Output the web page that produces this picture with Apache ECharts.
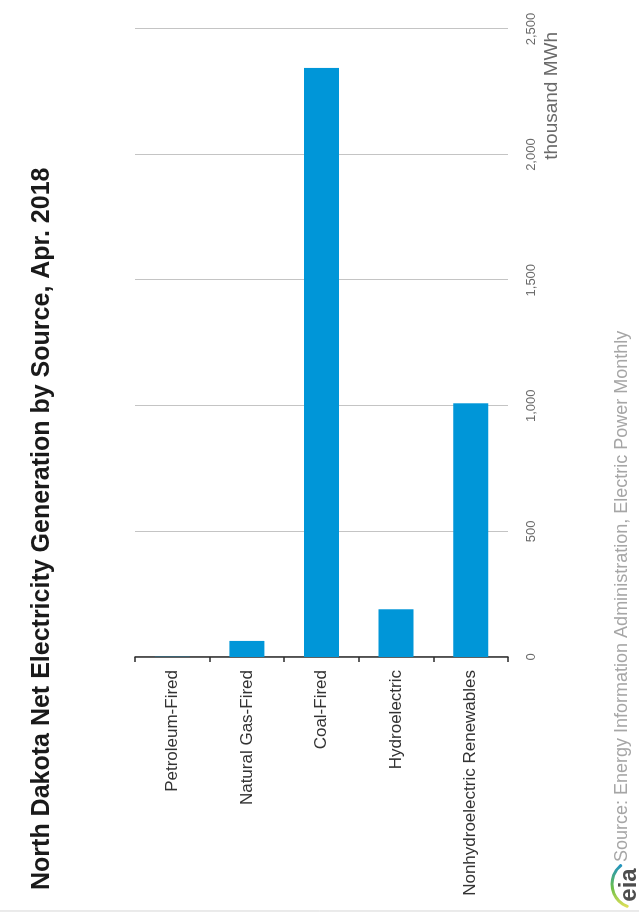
<!DOCTYPE html>
<html>
<head>
<meta charset="utf-8">
<script src="https://cdn.jsdelivr.net/npm/echarts@6/dist/echarts.min.js"></script>
<style>
  html, body { margin: 0; padding: 0; background: #fff; overflow: hidden; }
  /* The chart is laid out landscape (915 x 639) and turned a quarter turn
     counter-clockwise so it fills the portrait page. */
  #wrap {
    position: absolute; left: 0; top: 915px;
    width: 915px; height: 639px;
    transform-origin: 0 0; transform: rotate(-90deg);
  }
  #chart { width: 915px; height: 639px; }
</style>
</head>
<body>
<div id="wrap"><div id="chart"></div></div>
<script>
const FONT = 'Liberation Sans, Arial, Helvetica, sans-serif';

const titleText = 'North Dakota Net Electricity Generation by Source, Apr. 2018';
const unitText = 'thousand MWh';
const sourceText = 'Source: Energy Information Administration, Electric Power Monthly';

const categories = ['Petroleum-Fired', 'Natural Gas-Fired', 'Coal-Fired', 'Hydroelectric', 'Nonhydroelectric Renewables'];
const generation = [1, 64, 2345, 190, 1010];   // thousand MWh
const valueTicks = [0, 500, 1000, 1500, 2000, 2500];

const chart = echarts.init(document.getElementById('chart'), null, { renderer: 'canvas' });

chart.setOption({
  backgroundColor: '#ffffff',
  animation: false,
  textStyle: { fontFamily: FONT },
  title: {
    text: titleText,
    left: 25, top: 30, padding: 0,
    textStyle: { fontFamily: FONT, fontSize: 25, fontWeight: 'bold', color: '#1a1a1a', lineHeight: 25 }
  },
  grid: { left: 258, right: 29, top: 135, bottom: 131, containLabel: false },
  xAxis: {
    type: 'value',
    min: valueTicks[0],
    max: valueTicks[valueTicks.length - 1],
    interval: valueTicks[1] - valueTicks[0],
    axisLine: { show: false },
    axisTick: { show: false },
    splitLine: { show: true, lineStyle: { color: '#c4c4c4', width: 1 } },
    axisLabel: {
      margin: 17, fontSize: 13, color: '#6a6a6a', fontFamily: FONT,
      formatter: v => v.toLocaleString('en-US')
    }
  },
  yAxis: {
    type: 'category',
    data: categories,
    inverse: true,
    axisLine: { show: true, lineStyle: { color: '#2b2b2b', width: 1.5 } },
    axisTick: { show: true, length: 5, alignWithLabel: false, lineStyle: { color: '#2b2b2b', width: 1.5 } },
    splitLine: { show: false },
    axisLabel: { margin: 13, fontSize: 17, color: '#333333', fontFamily: FONT }
  },
  series: [{
    type: 'bar',
    data: generation,
    barWidth: 35,
    itemStyle: { color: '#0096d8' }
  }],
  graphic: [
    {
      type: 'text', x: 883, y: 552,
      style: { text: unitText, font: '19px ' + FONT, fill: '#6a6a6a', align: 'right', verticalAlign: 'middle' }
    },
    {
      type: 'text', x: 53, y: 622,
      style: { text: sourceText, font: '18px ' + FONT, fill: '#a6a6a6', align: 'left', verticalAlign: 'middle' }
    },
    // eia logo: swoosh over the lowercase wordmark
    {
      type: 'arc',
      shape: { cx: 31, cy: 636, r: 24, startAngle: Math.PI * 1.12, endAngle: Math.PI * 1.78 },
      style: {
        fill: 'none', lineWidth: 3, lineCap: 'round',
        stroke: new echarts.graphic.LinearGradient(0, 0, 1, 0, [
          { offset: 0, color: '#e9e25a' },
          { offset: 0.45, color: '#6cc04a' },
          { offset: 1, color: '#1a8fc9' }
        ])
      }
    },
    {
      type: 'text', x: 30, y: 629,
      style: { text: 'eia', font: 'bold 24px ' + FONT, fill: '#4d4d4d', align: 'center', verticalAlign: 'middle' }
    },
    // thin frame edge
    {
      type: 'line', shape: { x1: 4, y1: 0, x2: 4, y2: 639 },
      style: { stroke: '#d6d6d6', lineWidth: 1 }
    }
  ]
});
</script>
</body>
</html>
